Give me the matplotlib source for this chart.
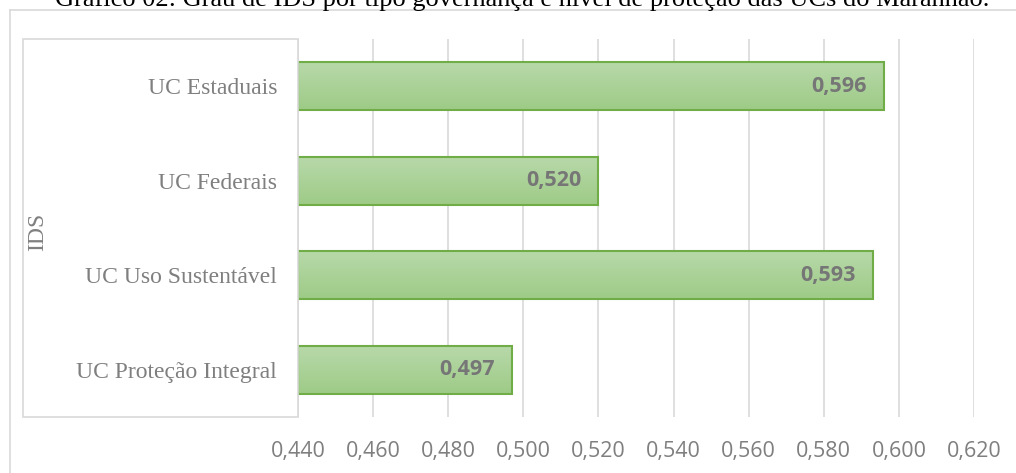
import matplotlib.pyplot as plt
import numpy as np
from matplotlib.patches import Rectangle

categorias = ["UC Estaduais", "UC Federais", "UC Uso Sustentável", "UC Proteção Integral"]
ids = [0.596, 0.520, 0.593, 0.497]
rotulos = ["0,596", "0,520", "0,593", "0,497"]
ticks_x = [0.44, 0.46, 0.48, 0.50, 0.52, 0.54, 0.56, 0.58, 0.60, 0.62]
ticks_txt = ["0,440", "0,460", "0,480", "0,500", "0,520", "0,540", "0,560", "0,580", "0,600", "0,620"]
titulo = "Gráfico 02: Grau de IDS por tipo governança e nível de proteção das UCs do Maranhão."

W, H = 1016, 473
cinza = "#7f7f7f"
borda = "#d9d9d9"
serif = ["Liberation Serif", "DejaVu Serif"]

fig = plt.figure(figsize=(W / 100, H / 100), dpi=100)

# moldura externa do gráfico (cortada na direita e em baixo)
fig.add_artist(plt.Line2D([10 / W, 10 / W], [0, 1 - 10 / H], color=borda, lw=1.2))
fig.add_artist(plt.Line2D([10 / W, 1], [1 - 10 / H, 1 - 10 / H], color=borda, lw=1.2))

# caixa dos rótulos de categoria
fig.add_artist(Rectangle((23 / W, 1 - 417 / H), (298 - 23) / W, (417 - 39) / H,
                         transform=fig.transFigure, fill=False, ec=borda, lw=1.2))

fig.text(522 / W, 1 - 6 / H, titulo, ha="center", va="baseline",
         fontsize=19, family=serif, color="black")

ax = fig.add_axes([298 / W, 1 - 417 / H, (974 - 298) / W, (417 - 39) / H])
ax.set_facecolor("none")

y = np.arange(len(categorias))
base = ticks_x[0]
barras = ax.barh(y, np.array(ids) - base, left=base, height=0.51,
                 color="none", edgecolor="#70ad47", linewidth=1.5, zorder=3)

grad = np.linspace(0, 1, 64).reshape(-1, 1)
cmap = plt.matplotlib.colors.LinearSegmentedColormap.from_list("g", ["#b8d9aa", "#9ecb87"])
for b in barras:
    x0, y0 = b.get_x(), b.get_y()
    w, h = b.get_width(), b.get_height()
    im = ax.imshow(grad, extent=(x0, x0 + w, y0 + h, y0), aspect="auto",
                   cmap=cmap, origin="upper", zorder=2)
    im.set_clip_path(b)

for i, v in enumerate(ids):
    ax.annotate(rotulos[i], (v, y[i]), xytext=(-12.2, 0), textcoords="offset points",
                ha="right", va="center", fontsize=15.5, fontweight="bold",
                color="#767676", family="Open Sans", zorder=4)

ax.set_xlim(0.44, 0.62)
ax.set_ylim(3.5, -0.5)
ax.set_xticks(ticks_x)
ax.set_xticklabels(ticks_txt, fontsize=15.5, color=cinza, family="Open Sans")
ax.set_yticks(y)
ax.set_yticklabels(categorias, fontsize=17, color=cinza, family=serif)
ax.tick_params(axis="both", length=0)
ax.tick_params(axis="y", pad=15)
ax.tick_params(axis="x", pad=17)
ax.grid(axis="x", color=borda, lw=1.2, zorder=0)
ax.set_axisbelow(True)
for s in ax.spines.values():
    s.set_visible(False)

fig.text(38 / W, 1 - 232 / H, "IDS", rotation=90, ha="center", va="center",
         fontsize=17, family=serif, color=cinza)

fig.savefig("out.png", dpi=100)
